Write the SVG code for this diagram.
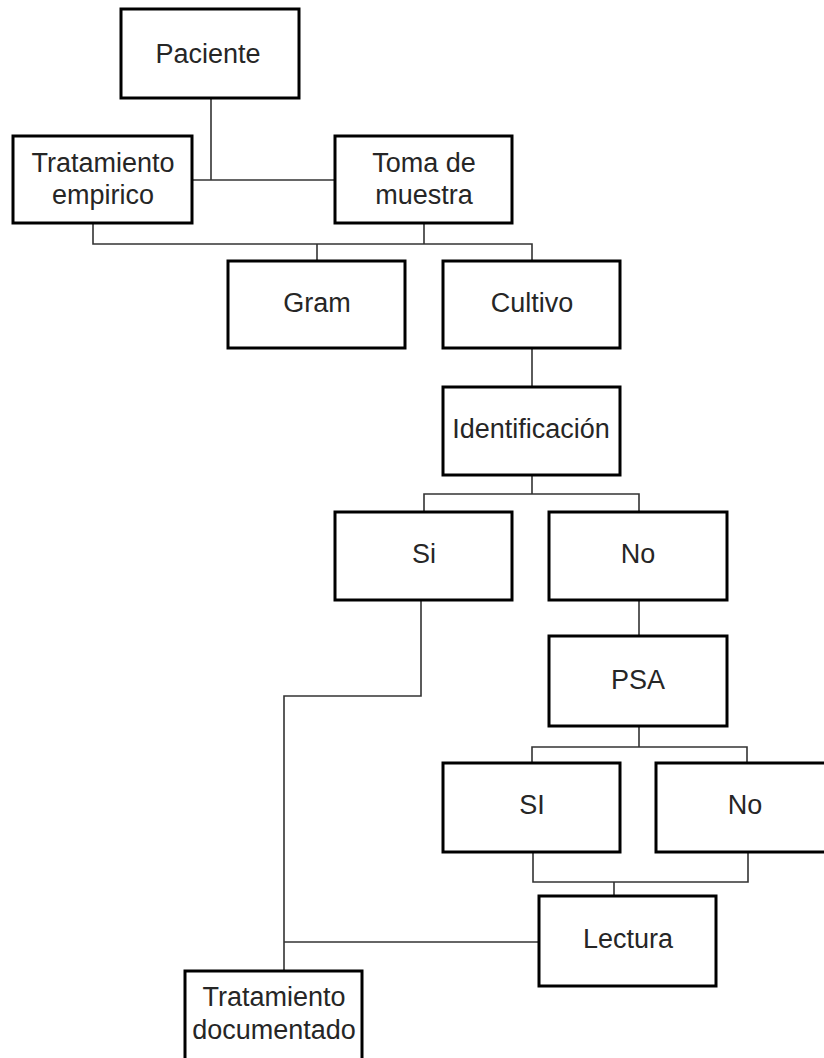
<svg xmlns="http://www.w3.org/2000/svg" width="824" height="1058" viewBox="0 0 824 1058">
<style>
.box{fill:#fff;stroke:#000;stroke-width:3}
.t{font-family:"Liberation Sans",Arial,sans-serif;font-size:27px;fill:#262626;text-anchor:middle}
.c{fill:none;stroke:#333;stroke-width:1.6}
</style>
<rect width="824" height="1058" fill="#fff"/>
<g id="connectors">
<polyline class="c" points="211,98 211,180"/>
<polyline class="c" points="192,180 335,180"/>
<polyline class="c" points="93,223 93,244 532,244 532,261"/>
<polyline class="c" points="424,223 424,244"/>
<polyline class="c" points="317,244 317,261"/>
<polyline class="c" points="532,348 532,387"/>
<polyline class="c" points="532,475 532,494"/>
<polyline class="c" points="424,512 424,494 639,494 639,512"/>
<polyline class="c" points="639,600 639,636"/>
<polyline class="c" points="421,600 421,696 284,696 284,971"/>
<polyline class="c" points="639,726 639,747"/>
<polyline class="c" points="532,763 532,747 747,747 747,763"/>
<polyline class="c" points="533,852 533,882 748,882 748,852"/>
<polyline class="c" points="614,882 614,896"/>
<polyline class="c" points="284,942 539,942"/>
</g>
<g id="paciente"><rect class="box" x="121" y="9" width="178" height="89"/><text class="t" x="208" y="63">Paciente</text></g>
<g id="tratamiento-empirico"><rect class="box" x="13" y="136" width="179" height="87"/><text class="t" x="103" y="172">Tratamiento</text><text class="t" x="103" y="204">empirico</text></g>
<g id="toma-muestra"><rect class="box" x="335" y="136" width="177" height="87"/><text class="t" x="424" y="172">Toma de</text><text class="t" x="424" y="204">muestra</text></g>
<g id="gram"><rect class="box" x="228" y="261" width="177" height="87"/><text class="t" x="317" y="312">Gram</text></g>
<g id="cultivo"><rect class="box" x="443" y="261" width="177" height="87"/><text class="t" x="532" y="312">Cultivo</text></g>
<g id="identificacion"><rect class="box" x="443" y="387" width="177" height="88"/><text class="t" x="531" y="438">Identificación</text></g>
<g id="si"><rect class="box" x="335" y="512" width="177" height="88"/><text class="t" x="424" y="563">Si</text></g>
<g id="no"><rect class="box" x="549" y="512" width="178" height="88"/><text class="t" x="638" y="563">No</text></g>
<g id="psa"><rect class="box" x="549" y="636" width="178" height="90"/><text class="t" x="638" y="689">PSA</text></g>
<g id="si2"><rect class="box" x="443" y="763" width="177" height="89"/><text class="t" x="532" y="814">SI</text></g>
<g id="no2"><rect class="box" x="656" y="763" width="180" height="89"/><text class="t" x="745" y="814">No</text></g>
<g id="lectura"><rect class="box" x="539" y="896" width="177" height="90"/><text class="t" x="628" y="948">Lectura</text></g>
<g id="tratamiento-documentado"><rect class="box" x="185" y="971" width="177" height="100"/><text class="t" x="274" y="1006">Tratamiento</text><text class="t" x="274" y="1039">documentado</text></g>
</svg>
